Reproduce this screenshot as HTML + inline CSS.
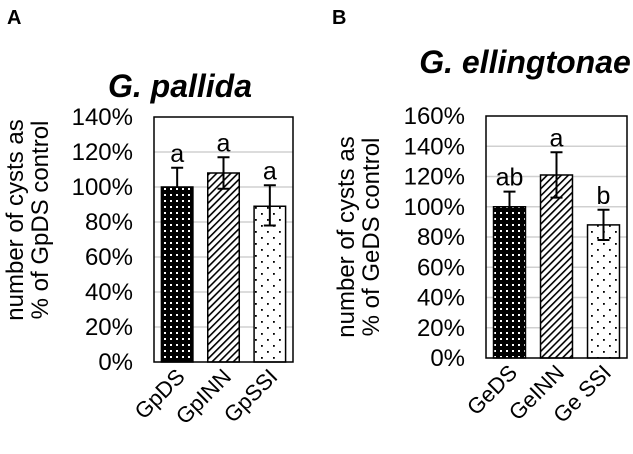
<!DOCTYPE html>
<html><head><meta charset="utf-8"><style>
body{margin:0;background:#fff;}
svg{display:block;font-family:"Liberation Sans",Arial,sans-serif;}
</style></head><body>
<svg id="chart" width="633" height="454" viewBox="0 0 633 454" xmlns="http://www.w3.org/2000/svg">
<defs>
<pattern id="pDots" width="6" height="6" patternUnits="userSpaceOnUse"><rect width="6" height="6" fill="#000"/><rect x="2" y="2" width="2" height="2" fill="#fff"/></pattern>
<pattern id="pHatch" width="5" height="5" patternUnits="userSpaceOnUse" patternTransform="rotate(45)"><rect width="5" height="5" fill="#fff"/><rect width="1.6" height="5" fill="#000"/></pattern>
<pattern id="pSparse" width="12" height="12" patternUnits="userSpaceOnUse"><rect width="12" height="12" fill="#fff"/><rect x="3" y="3" width="1.8" height="1.8" fill="#000"/><rect x="9" y="9" width="1.8" height="1.8" fill="#000"/></pattern>
</defs>
<text x="7" y="24" font-size="20" font-weight="bold">A</text>
<text x="332" y="24" font-size="20" font-weight="bold">B</text>
<g id="gA"></g><g id="gB"></g>
</svg>
<script>
const catsA = ["GpDS","GpINN","GpSSI"];
const valsA = [100,108,89];
const errUpA = [11,9,12];
const errDnA = [0,9,11];
const lettersA = ["a","a","a"];
const ticksA = [0,20,40,60,80,100,120,140];
const catsB = ["GeDS","GeINN","Ge SSI"];
const valsB = [100,121,88];
const errUpB = [10,15,10];
const errDnB = [0,15,10];
const lettersB = ["ab","a","b"];
const ticksB = [0,20,40,60,80,100,120,140,160];
const fills = ["url(#pDots)","url(#pHatch)","url(#pSparse)"];
const NS="http://www.w3.org/2000/svg";
function mk(g,tag,attrs,txt){const e=document.createElementNS(NS,tag);for(const k in attrs)e.setAttribute(k,attrs[k]);if(txt!==undefined)e.textContent=txt;g.appendChild(e);return e;}
function panel(g,cfg,cats,vals,eu,ed,letters,ticks){
  const {x0,x1,y0,y1,max,title,tx,ty,tickX,at1,at2,ax1,ax2,ay}=cfg;
  const y=v=>y1-(v/max)*(y1-y0);
  const bw=(x1-x0)/cats.length;
  const t=mk(g,'text',{x:tx,y:ty,'font-size':32,'font-weight':'bold','font-style':'italic','text-anchor':'middle'},title);
  
  
  ticks.forEach(v=>{
    if(v>0&&v<max){const l=mk(g,'line',{x1:x0,x2:x1,y1:y(v),y2:y(v),stroke:'#d0d0d0','stroke-width':1.5});
    
    }
    const tl=mk(g,'text',{x:tickX,y:y(v)+8,'font-size':24,'text-anchor':'end'},v+'%');
    
    
  });
  const a1=mk(g,'text',{x:ax1,y:ay,'font-size':24,'text-anchor':'middle',transform:`rotate(-90 ${ax1} ${ay})`},at1);
  
  
  const a2=mk(g,'text',{x:ax2,y:ay,'font-size':24,'text-anchor':'middle',transform:`rotate(-90 ${ax2} ${ay})`},at2);
  
  
  cats.forEach((c,i)=>{
    const cx=x0+bw*(i+0.5), w=bw*0.68;
    const b=mk(g,'rect',{x:cx-w/2,y:y(vals[i]),width:w,height:y1-y(vals[i]),fill:fills[i],stroke:'#000','stroke-width':1.5});
    
    
    const top=y(vals[i]+eu[i]), bot=y(vals[i]-ed[i]);
    const e=mk(g,'path',{d:`M${cx},${top}V${bot}M${cx-6},${top}H${cx+6}`+(ed[i]?`M${cx-6},${bot}H${cx+6}`:''),stroke:'#000','stroke-width':2,fill:'none'});
    
    
    const lt=mk(g,'text',{x:cx,y:top-6,'font-size':25,'text-anchor':'middle'},letters[i]);
    
    
    const xl=mk(g,'text',{x:cx+9,y:y1+16,'font-size':22,'text-anchor':'end',transform:`rotate(-45 ${cx+9} ${y1+16})`},c);
    
    
  });
  const f=mk(g,'rect',{x:x0,y:y0,width:x1-x0,height:y1-y0,fill:'none',stroke:'#000','stroke-width':1.5});
  
  
}
panel(document.getElementById('gA'),{x0:154,x1:293,y0:117,y1:362,max:140,title:'G. pallida',tx:180,ty:97,tickX:133,at1:'number of cysts as',at2:'% of GpDS control',ax1:23,ax2:48,ay:220},catsA,valsA,errUpA,errDnA,lettersA,ticksA);
panel(document.getElementById('gB'),{x0:486,x1:627,y0:116,y1:358,max:160,title:'G. ellingtonae',tx:525,ty:73,tickX:465,at1:'number of cysts as',at2:'% of GeDS control',ax1:354,ax2:379,ay:237},catsB,valsB,errUpB,errDnB,lettersB,ticksB);
</script>
</body></html>
